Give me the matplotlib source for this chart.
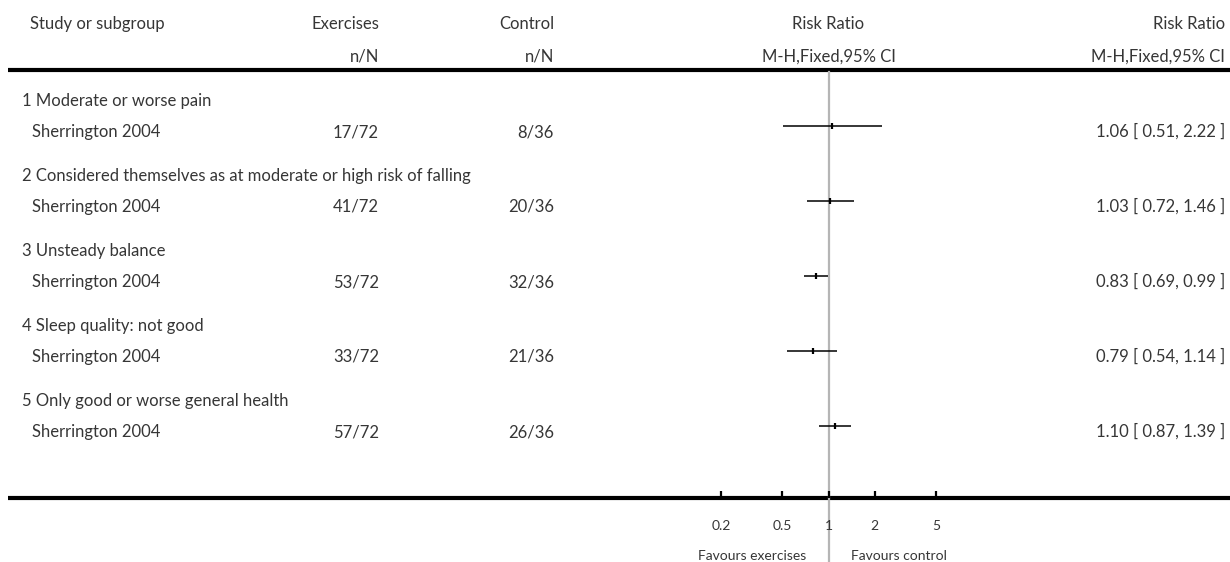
import matplotlib
matplotlib.use("Agg")
import matplotlib.pyplot as plt

# ---- data ----
subgroups = [
    "1 Moderate or worse pain",
    "2 Considered themselves as at moderate or high risk of falling",
    "3 Unsteady balance",
    "4 Sleep quality: not good",
    "5 Only good or worse general health",
]
studies = ["Sherrington 2004"] * 5
ex_events = [17, 41, 53, 33, 57]
ex_total = [72, 72, 72, 72, 72]
ctl_events = [8, 20, 32, 21, 26]
ctl_total = [36, 36, 36, 36, 36]
rr = [1.06, 1.03, 0.83, 0.79, 1.10]
ci_lo = [0.51, 0.72, 0.69, 0.54, 0.87]
ci_hi = [2.22, 1.46, 0.99, 1.14, 1.39]
axis_ticks = [0.2, 0.5, 1, 2, 5]
axis_labels = ["0.2", "0.5", "1", "2", "5"]

# ---- layout (pixel coordinates) ----
W, H = 1230, 562
FS = 12
FS_SMALL = 10
TXT = "#363636"
WT = "normal"
plt.rcParams["font.family"] = ["Lato", "DejaVu Sans"]

fig = plt.figure(figsize=(W / 100, H / 100), dpi=100)
tab = fig.add_axes([0, 0, 1, 1])
tab.set_xlim(0, W)
tab.set_ylim(H, 0)
tab.axis("off")

# log-scaled forest axes sharing the same pixel rows
null_px, px_per_dec = 828.5, 154.0
ax = fig.add_axes([0, 0, 1, 1], facecolor="none")
ax.set_xscale("log")
ax.set_xlim(10 ** ((0 - null_px) / px_per_dec), 10 ** ((W - null_px) / px_per_dec))
ax.set_ylim(H, 0)
ax.axis("off")


def put(a, x, y, s, ha, fs=FS):
    a.text(x, y, s, ha=ha, va="baseline", fontsize=fs, color=TXT, fontweight=WT)


# header
hy1, hy2 = 29, 62
put(tab, 30, hy1, "Study or subgroup", "left")
put(tab, 379, hy1, "Exercises", "right")
put(tab, 379, hy2, "n/N", "right")
put(tab, 554, hy1, "Control", "right")
put(tab, 554, hy2, "n/N", "right")
put(ax, 1, hy1, "Risk Ratio", "center")
put(ax, 1, hy2, "M-H,Fixed,95% CI", "center")
put(tab, 1225, hy1, "Risk Ratio", "right")
put(tab, 1225, hy2, "M-H,Fixed,95% CI", "right")

# rules
tab.plot([8, W], [70, 70], color="black", lw=3.0, solid_capstyle="butt")
line_y = 498
tab.plot([8, W], [line_y, line_y], color="black", lw=3.0, solid_capstyle="butt")

# line of no effect
ax.plot([1, 1], [72, H], color="#b5b5b5", lw=1.6, zorder=1)

# rows
row_step = 75.0
for i in range(len(subgroups)):
    y_ci = 126 + row_step * i
    y_head = y_ci - 20
    y_study = y_ci + 11
    put(tab, 22, y_head, subgroups[i], "left")
    put(tab, 32, y_study, studies[i], "left")
    put(tab, 379, y_study, f"{ex_events[i]}/{ex_total[i]}", "right")
    put(tab, 554, y_study, f"{ctl_events[i]}/{ctl_total[i]}", "right")
    put(tab, 1225, y_study, f"{rr[i]:.2f} [ {ci_lo[i]:.2f}, {ci_hi[i]:.2f} ]", "right")
    ax.plot([ci_lo[i], ci_hi[i]], [y_ci, y_ci], color="black", lw=1.1, zorder=3,
            solid_capstyle="butt")
    ax.plot([rr[i]], [y_ci], marker="|", ms=5, mew=1.6, color="black", zorder=4)

# axis ticks and labels
for t, lab in zip(axis_ticks, axis_labels):
    ax.plot([t, t], [line_y - 7, line_y], color="black", lw=1.6, solid_capstyle="butt")
    put(ax, t, 530, lab, "center", FS_SMALL)

put(ax, 10 ** ((806 - null_px) / px_per_dec), 560, "Favours exercises", "right", FS_SMALL)
put(ax, 10 ** ((851 - null_px) / px_per_dec), 560, "Favours control", "left", FS_SMALL)

fig.savefig("out.png", dpi=100, facecolor="white")
